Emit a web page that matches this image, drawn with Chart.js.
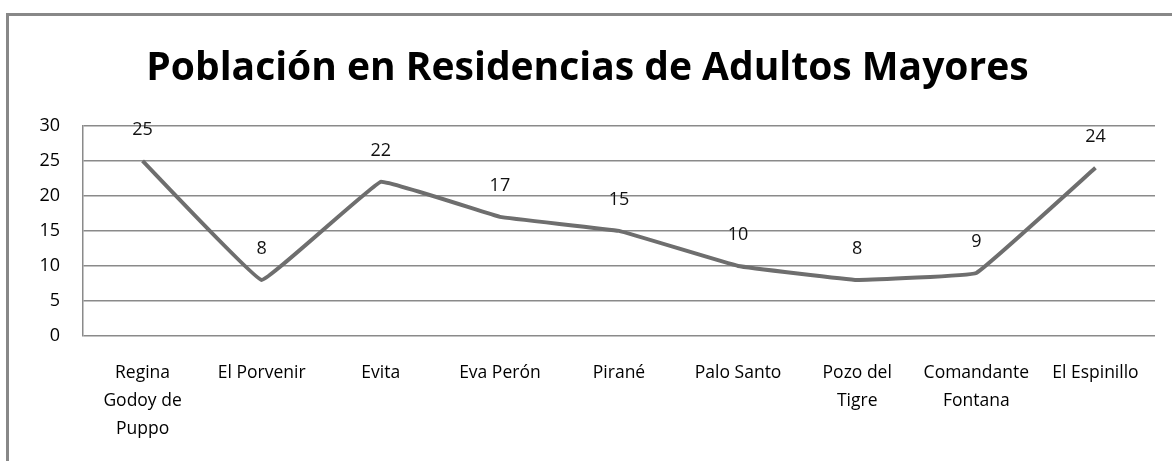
<!DOCTYPE html>
<html>
<head>
<meta charset="utf-8">
<script src="https://cdn.jsdelivr.net/npm/chart.js@4"></script>
<style>
  html, body { margin: 0; padding: 0; background: #fff; overflow: hidden; }
  #wrap { position: relative; width: 1172px; height: 461px; }
  #frame { position: absolute; left: 6px; top: 13px; width: 1200px; height: 500px;
           border-left: 3px solid #888; border-top: 3px solid #888; pointer-events: none; }
  canvas { position: absolute; left: 0; top: 0; }
</style>
</head>
<body>
<div id="wrap">
  <canvas id="chart" width="1172" height="461"></canvas>
  <div id="frame"></div>
</div>
<script>
// datos del gráfico
const categorias = [
  ['Regina', 'Godoy de', 'Puppo'],
  ['El Porvenir'],
  ['Evita'],
  ['Eva Perón'],
  ['Pirané'],
  ['Palo Santo'],
  ['Pozo del', 'Tigre'],
  ['Comandante', 'Fontana'],
  ['El Espinillo']
];
const poblacion = [25, 8, 22, 17, 15, 10, 8, 9, 24];
const ticksY = [0, 5, 10, 15, 20, 25, 30];

const fuente = '"Open Sans", "DejaVu Sans", sans-serif';

// etiquetas de valor encima de cada punto
const etiquetas = {
  id: 'etiquetas',
  afterDatasetsDraw(chart) {
    const ctx = chart.ctx;
    const meta = chart.getDatasetMeta(0);
    ctx.save();
    ctx.font = '18px ' + fuente;
    ctx.fillStyle = '#111';
    ctx.textAlign = 'center';
    ctx.textBaseline = 'middle';
    meta.data.forEach((pt, i) => {
      ctx.fillText(String(poblacion[i]), pt.x, pt.y - 31);
    });
    ctx.restore();
  }
};

new Chart(document.getElementById('chart'), {
  type: 'line',
  data: {
    labels: categorias,
    datasets: [{
      label: 'Población',
      data: poblacion,
      borderColor: '#6e6e6e',
      borderWidth: 4,
      pointRadius: 0,
      fill: false,
      tension: 0.06
    }]
  },
  options: {
    responsive: false,
    animation: false,
    layout: { padding: { top: 20, left: 20, right: 17, bottom: 0 } },
    plugins: {
      legend: { display: false },
      tooltip: { enabled: false },
      title: {
        display: true,
        text: 'Población en Residencias de Adultos Mayores',
        color: '#000',
        font: { family: fuente, size: 39, weight: 'bold', lineHeight: 1.2 },
        padding: { top: 25, bottom: 34 }
      }
    },
    scales: {
      x: {
        offset: true,
        grid: { display: false, drawTicks: false },
        border: { display: false },
        ticks: {
          color: '#000',
          padding: 23,
          maxRotation: 0,
          autoSkip: false,
          font: { family: fuente, size: 17.5, lineHeight: 1.6 }
        },
        afterFit(scale) { scale.height = 125; }
      },
      y: {
        min: 0,
        max: 30,
        afterBuildTicks(scale) { scale.ticks = ticksY.map(v => ({ value: v })); },
        grid: { color: '#8a8a8a', lineWidth: 1.5, drawTicks: false },
        border: { display: true, color: '#8a8a8a', width: 1.5 },
        ticks: {
          color: '#000',
          padding: 23,
          font: { family: fuente, size: 18 }
        },
        afterFit(scale) { scale.width = 63; }
      }
    }
  },
  plugins: [etiquetas]
});
</script>
</body>
</html>
